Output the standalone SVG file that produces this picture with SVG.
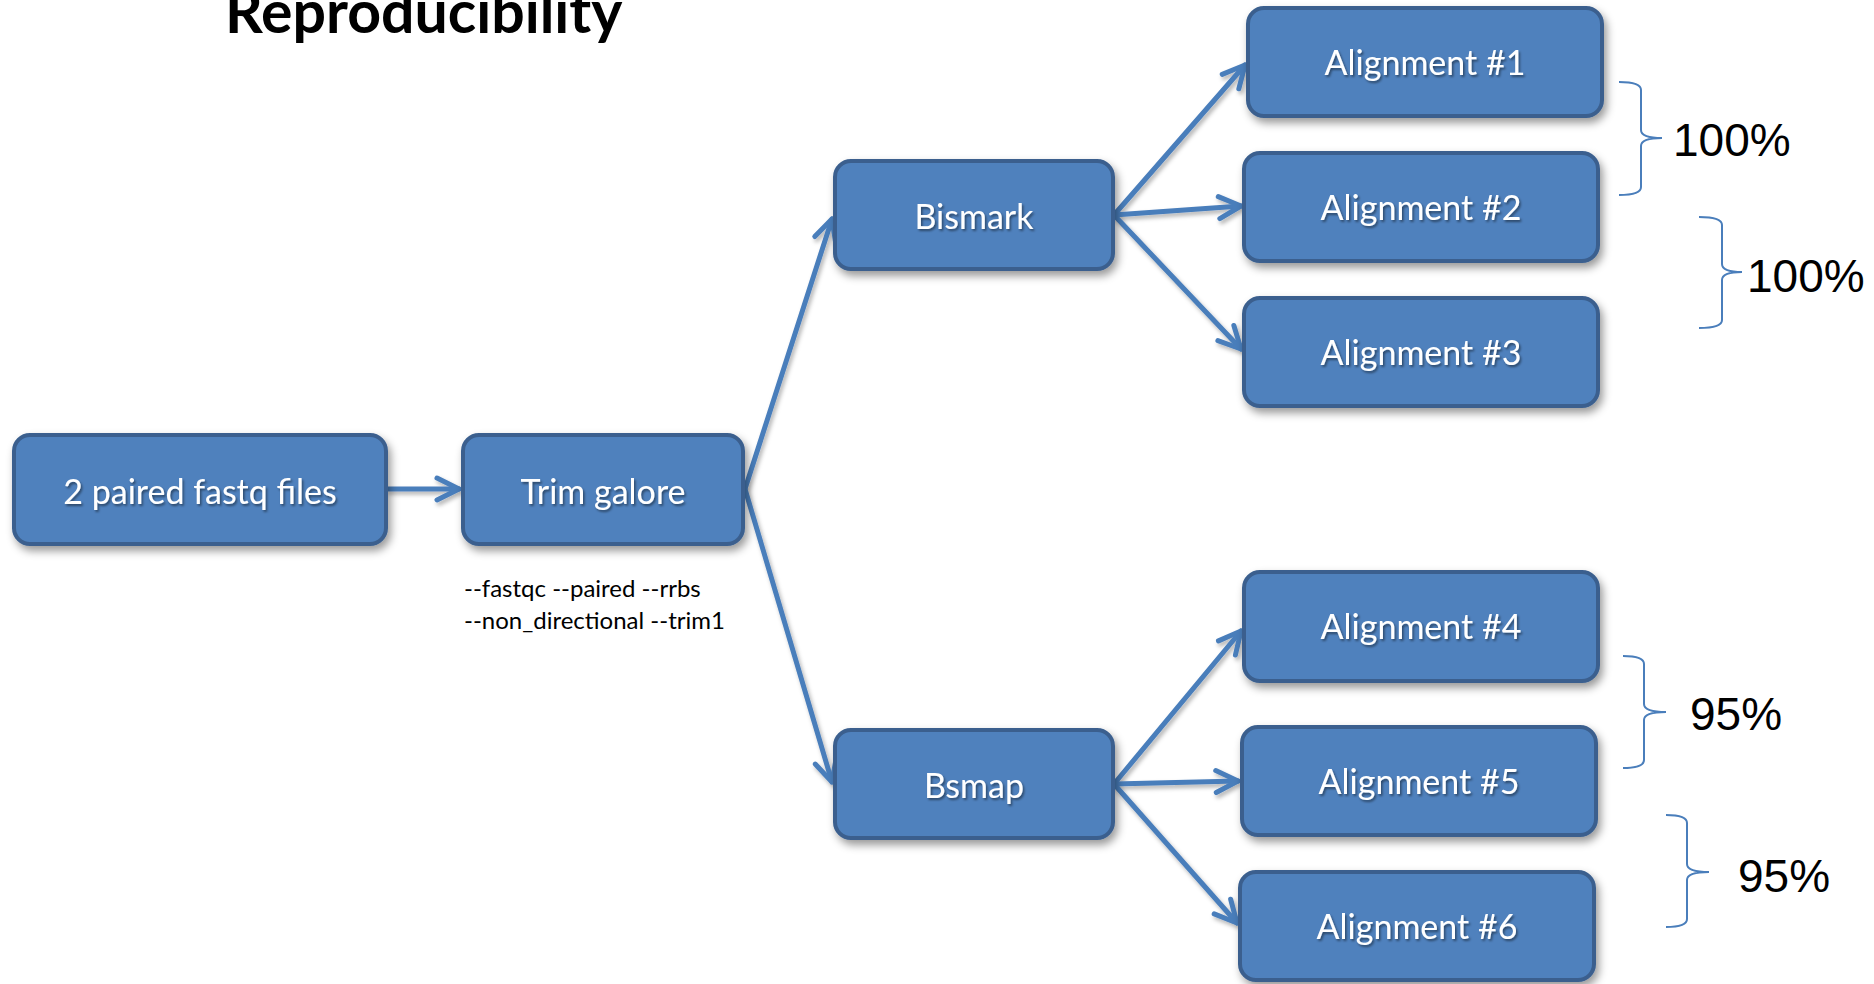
<svg xmlns="http://www.w3.org/2000/svg" width="1874" height="984" viewBox="0 0 1874 984">
  <defs>
    <style>
      .box { fill: #4f81bd; stroke: #3a5f8e; stroke-width: 4; }
      .label { font-family: "Lato", "Open Sans", sans-serif; font-size: 34px; fill: #ffffff; text-anchor: middle; }
      .title { font-family: "Lato", "Open Sans", sans-serif; font-size: 59px; font-weight: bold; fill: #000000; }
      .note { font-family: "Lato", "Open Sans", sans-serif; font-size: 24px; fill: #000000; }
      .pct { font-family: "Liberation Sans", Arial, sans-serif; font-size: 46px; fill: #000000; }
      .edge { fill: none; stroke: #4a7ebb; stroke-width: 5; stroke-linecap: round; marker-end: url(#arrow); }
      .brace { fill: none; stroke: #4a7ebb; stroke-width: 2; }
    </style>
    <filter id="boxShadow" x="-10%" y="-20%" width="125%" height="150%">
      <feDropShadow dx="3" dy="5" stdDeviation="4" flood-color="#000000" flood-opacity="0.4"/>
    </filter>
    <filter id="lineShadow" x="-10%" y="-10%" width="125%" height="125%">
      <feDropShadow dx="2" dy="3" stdDeviation="2" flood-color="#000000" flood-opacity="0.3"/>
    </filter>
    <filter id="textShadow" x="-5%" y="-20%" width="115%" height="150%">
      <feDropShadow dx="1.5" dy="2" stdDeviation="1" flood-color="#000000" flood-opacity="0.45"/>
    </filter>
    <marker id="arrow" viewBox="-26 -15 30 30" refX="0" refY="0" markerWidth="30" markerHeight="30" markerUnits="userSpaceOnUse" orient="auto">
      <path d="M-22,-11 L0,0 L-22,11" fill="none" stroke="#4a7ebb" stroke-width="5" stroke-linecap="round" stroke-linejoin="round"/>
    </marker>
  </defs>

  <rect width="1874" height="984" fill="#ffffff"/>

  <text class="title" x="225" y="33">Reproducibility</text>

  <!-- connectors -->
  <g id="connectors" filter="url(#lineShadow)">
    <path class="edge" d="M388,489 L459,489"/>
    <path class="edge" d="M745,489 L832,219"/>
    <path class="edge" d="M745,489 L832,782"/>
    <path class="edge" d="M1114,215 L1245,65"/>
    <path class="edge" d="M1114,215 L1241,206"/>
    <path class="edge" d="M1114,215 L1241,349"/>
    <path class="edge" d="M1114,784 L1241,631"/>
    <path class="edge" d="M1114,784 L1238,781"/>
    <path class="edge" d="M1114,784 L1237,923"/>
  </g>

  <!-- nodes -->
  <g id="node-fastq">
    <rect class="box" x="14" y="435" width="372" height="109" rx="16" filter="url(#boxShadow)"/>
    <text class="label" x="200" y="504" filter="url(#textShadow)">2 paired fastq files</text>
  </g>
  <g id="node-trim">
    <rect class="box" x="463" y="435" width="280" height="109" rx="16" filter="url(#boxShadow)"/>
    <text class="label" x="603" y="504" filter="url(#textShadow)">Trim galore</text>
  </g>
  <g id="node-bismark">
    <rect class="box" x="835" y="161" width="278" height="108" rx="16" filter="url(#boxShadow)"/>
    <text class="label" x="974" y="229" filter="url(#textShadow)">Bismark</text>
  </g>
  <g id="node-bsmap">
    <rect class="box" x="835" y="730" width="278" height="108" rx="16" filter="url(#boxShadow)"/>
    <text class="label" x="974" y="798" filter="url(#textShadow)">Bsmap</text>
  </g>
  <g id="node-align1">
    <rect class="box" x="1248" y="8" width="354" height="108" rx="16" filter="url(#boxShadow)"/>
    <text class="label" x="1425" y="75" filter="url(#textShadow)">Alignment #1</text>
  </g>
  <g id="node-align2">
    <rect class="box" x="1244" y="153" width="354" height="108" rx="16" filter="url(#boxShadow)"/>
    <text class="label" x="1421" y="220" filter="url(#textShadow)">Alignment #2</text>
  </g>
  <g id="node-align3">
    <rect class="box" x="1244" y="298" width="354" height="108" rx="16" filter="url(#boxShadow)"/>
    <text class="label" x="1421" y="365" filter="url(#textShadow)">Alignment #3</text>
  </g>
  <g id="node-align4">
    <rect class="box" x="1244" y="572" width="354" height="109" rx="16" filter="url(#boxShadow)"/>
    <text class="label" x="1421" y="639" filter="url(#textShadow)">Alignment #4</text>
  </g>
  <g id="node-align5">
    <rect class="box" x="1242" y="727" width="354" height="108" rx="16" filter="url(#boxShadow)"/>
    <text class="label" x="1419" y="794" filter="url(#textShadow)">Alignment #5</text>
  </g>
  <g id="node-align6">
    <rect class="box" x="1240" y="872" width="354" height="108" rx="16" filter="url(#boxShadow)"/>
    <text class="label" x="1417" y="939" filter="url(#textShadow)">Alignment #6</text>
  </g>

  <!-- trimming options -->
  <text class="note" x="464" y="597">--fastqc --paired --rrbs</text>
  <text class="note" x="464" y="629">--non_directional --trim1</text>

  <!-- agreement braces -->
  <path class="brace" d="M1619,82 Q1641,82 1641,90 L1641,130 Q1641,138 1662,138 Q1641,138 1641,146 L1641,187 Q1641,195 1619,195"/>
  <text class="pct" x="1673" y="156">100%</text>

  <path class="brace" d="M1699,217 Q1722,217 1722,225 L1722,264 Q1722,272 1742,272 Q1722,272 1722,280 L1722,320 Q1722,328 1699,328"/>
  <text class="pct" x="1747" y="292">100%</text>

  <path class="brace" d="M1623,656 Q1644,656 1644,664 L1644,704 Q1644,712 1666,712 Q1644,712 1644,720 L1644,760 Q1644,768 1623,768"/>
  <text class="pct" x="1690" y="730">95%</text>

  <path class="brace" d="M1666,815 Q1687,815 1687,823 L1687,864 Q1687,872 1709,872 Q1687,872 1687,880 L1687,919 Q1687,927 1666,927"/>
  <text class="pct" x="1738" y="892">95%</text>
</svg>
